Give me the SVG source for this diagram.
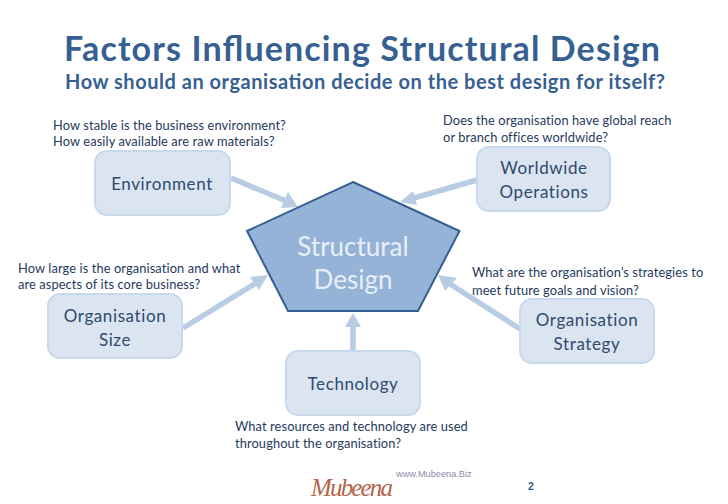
<svg xmlns="http://www.w3.org/2000/svg" width="728" height="504" viewBox="0 0 728 504">
<style>
text{font-family:Lato,"Open Sans",sans-serif}
.box{fill:#dbe5f1;stroke:#c9d9ec;stroke-width:2}
.lab{font-size:17px;fill:#2f4a6c;text-anchor:middle;letter-spacing:.6px}
.q{font-size:12.85px;fill:#1f3a5c;letter-spacing:.1px}
.c{stroke:#b8cce4;stroke-width:5.5;fill:none}
.h{fill:#b8cce4}
</style>
<rect width="728" height="504" fill="#fff"/>
<text x="362" y="61" font-size="34" font-weight="700" fill="#376092" text-anchor="middle" textLength="596" lengthAdjust="spacing">Factors Influencing Structural Design</text>
<text x="365" y="89" font-size="20" font-weight="700" fill="#376092" text-anchor="middle" textLength="600" lengthAdjust="spacing">How should an organisation decide on the best design for itself?</text>
<g id="connectors">
<path class="c" d="M231 178L286 201"/><path class="h" d="M298 207L288 192L281 208Z"/>
<path class="c" d="M477 180L414 198"/><path class="h" d="M400 202L413 191L417 205Z"/>
<path class="c" d="M183 328L256 283"/><path class="h" d="M268 275L250 277L259 290Z"/>
<path class="c" d="M520 329L450 284"/><path class="h" d="M438 275L457 278L445 291Z"/>
<path class="c" d="M353 350V325"/><path class="h" d="M353 313L345 327H361Z"/>
</g>
<g id="structural-design">
<path d="M353 182L459.5 231L418 311H288L247 231Z" fill="#95b3d7" stroke="#365f91" stroke-width="2"/>
<text x="353" y="256" font-size="26" fill="#e8eff8" text-anchor="middle">Structural</text>
<text x="353" y="289" font-size="26" fill="#e8eff8" text-anchor="middle">Design</text>
</g>
<g id="environment"><rect class="box" x="95" y="151" width="135" height="64" rx="12"/><text class="lab" x="162" y="190">Environment</text></g>
<g id="worldwide-operations"><rect class="box" x="477" y="147" width="133" height="64" rx="12"/><text class="lab" x="544" y="174">Worldwide</text><text class="lab" x="544" y="198">Operations</text></g>
<g id="organisation-size"><rect class="box" x="48" y="294" width="134" height="64" rx="12"/><text class="lab" x="115" y="322">Organisation</text><text class="lab" x="115" y="346">Size</text></g>
<g id="organisation-strategy"><rect class="box" x="520" y="299" width="134" height="64" rx="12"/><text class="lab" x="587" y="326">Organisation</text><text class="lab" x="587" y="350">Strategy</text></g>
<g id="technology"><rect class="box" x="286" y="351" width="134" height="64" rx="12"/><text class="lab" x="353" y="390">Technology</text></g>
<g id="notes">
<text class="q" x="53" y="130">How stable is the business environment?</text>
<text class="q" x="53" y="146">How easily available are raw materials?</text>
<text class="q" x="443" y="125">Does the organisation have global reach</text>
<text class="q" x="443" y="142">or branch offices worldwide?</text>
<text class="q" x="18" y="273">How large is the organisation and what</text>
<text class="q" x="18" y="289">are aspects of its core business?</text>
<text class="q" x="472" y="277">What are the organisation’s strategies to</text>
<text class="q" x="472" y="295">meet future goals and vision?</text>
<text class="q" x="235" y="431">What resources and technology are used</text>
<text class="q" x="235" y="448">throughout the organisation?</text>
</g>
<g id="footer">
<text x="396" y="477" font-size="9.2" fill="#8a8aa8" style="font-family:'Liberation Sans',sans-serif">www.Mubeena.Biz</text>
<text x="311" y="496" font-size="25" font-style="italic" fill="#b5654a" textLength="82" style="font-family:'Liberation Serif',serif">Mubeena</text>
<text x="528" y="490" font-size="10.5" font-weight="700" fill="#376092" style="font-family:'Liberation Sans',sans-serif">2</text>
</g>
</svg>
